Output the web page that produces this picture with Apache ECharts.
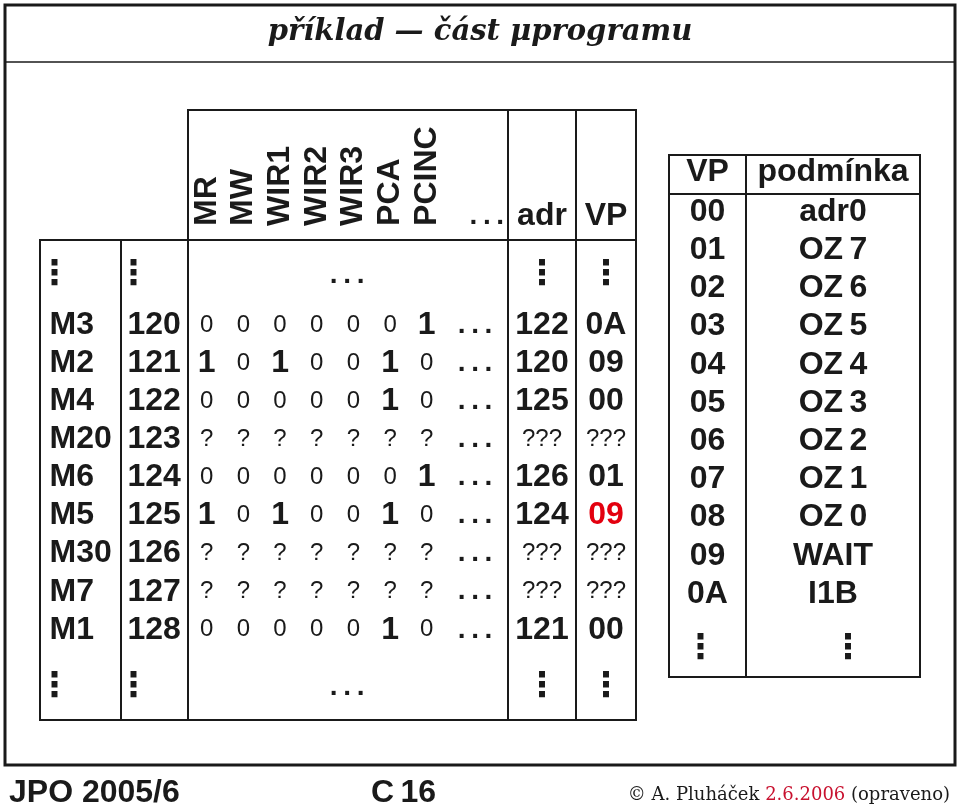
<!DOCTYPE html>
<html>
<head>
<meta charset="utf-8">
<title>příklad — část µprogramu</title>
<script src="https://cdn.jsdelivr.net/npm/echarts@6/dist/echarts.min.js"></script>
<style>
  html, body { margin: 0; background: #fff; }
  #chart { width: 960px; height: 810px; }
</style>
</head>
<body>
<div id="chart"></div>
<script>
// mikroinstrukce v pameti
const labels = ['M3', 'M2', 'M4', 'M20', 'M6', 'M5', 'M30', 'M7', 'M1'];
const addrs = ['120', '121', '122', '123', '124', '125', '126', '127', '128'];
const signals = ['MR', 'MW', 'WIR1', 'WIR2', 'WIR3', 'PCA', 'PCINC'];
const bits = ['0000001', '1010010', '0000010', '???????', '0000001',
              '1010010', '???????', '???????', '0000010'];
const nextAdr = ['122', '120', '125', '???', '126', '124', '???', '???', '121'];
const nextVP = ['0A', '09', '00', '???', '01', '09', '???', '???', '00'];
const changed = ['M5'];   // opravena polozka (cervene)

// tabulka podminek
const vpCodes = ['00', '01', '02', '03', '04', '05', '06', '07', '08', '09', '0A'];
const conditions = ['adr0', 'OZ\u20097', 'OZ\u20096', 'OZ\u20095', 'OZ\u20094', 'OZ\u20093',
                    'OZ\u20092', 'OZ\u20091', 'OZ\u20090', 'WAIT', 'I1B'];

const INK = '#1a1a1a';
const RED = '#e3000f';
const SANS = 'Liberation Sans';
const SERIF = 'DejaVu Serif';

// rozlozeni (px)
const LEFT = { row0: 325, step: 38.1, top: 110, head: 240, bottom: 720,
               cols: [40, 121, 188, 508, 576, 636] };
const RIGHT = { row0: 212, step: 38.2, top: 155, head: 194, bottom: 677,
                cols: [669, 746, 920] };
const BIT0 = 206.7, BITSTEP = 36.67;   // stred prvniho sloupce bitu
const DOTS_COL = 7.32, HEAD_DOTS_COL = 7.64, MID_COL = 3.83;
const HEAD_ROW = -2.6, HEAD_TXT_ROW = -2.86, GAP_TOP = -1.3, GAP_BOT = 9.5;
const R_HEAD_ROW = -1.05, R_GAP = 11.45;

let grids = [], xAxes = [], yAxes = [], series = [];

function addGrid(left, right, top, bottom, T, xAxis) {
    grids.push({ left: left, top: top, width: right - left, height: bottom - top,
                 show: true, borderColor: INK, borderWidth: 2, backgroundColor: 'transparent' });
    const i = grids.length - 1;
    xAxes.push(Object.assign({ gridIndex: i, show: false }, xAxis ||
        { type: 'category', data: ['c'], boundaryGap: true }));
    yAxes.push({ gridIndex: i, show: false, type: 'value', inverse: true,
                 min: (top - T.row0) / T.step, max: (bottom - T.row0) / T.step });
    return i;
}

const small = { fontFamily: SANS, fontSize: 24, fontWeight: 'normal', color: INK };

function textSeries(g, data, label) {
    series.push({
        type: 'scatter', xAxisIndex: g, yAxisIndex: g, symbolSize: 0, silent: true,
        itemStyle: { opacity: 1 },
        data: data,
        label: Object.assign({
            show: true, position: 'inside', opacity: 1,
            formatter: p => p.value[2] === '???' ? '{q|???}' : p.value[2],
            rich: { q: small },
            color: INK, fontFamily: SANS, fontSize: 32, fontWeight: 'bold'
        }, label)
    });
}

const vdots = { fontFamily: 'DejaVu Sans', fontSize: 34, fontWeight: 'bold' };
const hdots = '.\u2009.\u2009.';

// levá tabulka
const L = LEFT.cols;
const gName = addGrid(L[0], L[1], LEFT.head, LEFT.bottom, LEFT);
const gAddr = addGrid(L[1], L[2], LEFT.head, LEFT.bottom, LEFT);
const gBits = addGrid(L[2], L[3], LEFT.top, LEFT.bottom, LEFT,
    { type: 'value', min: (L[2] - BIT0) / BITSTEP, max: (L[3] - BIT0) / BITSTEP });
const gAdr = addGrid(L[3], L[4], LEFT.top, LEFT.bottom, LEFT);
const gVP = addGrid(L[4], L[5], LEFT.top, LEFT.bottom, LEFT);

textSeries(gName, labels.map((t, i) => [0, i, t]), { align: 'left', offset: [-31, 0] });
textSeries(gName, [[0, GAP_TOP, '⋮'], [0, GAP_BOT, '⋮']],
    Object.assign({ align: 'left', offset: [-43, 0] }, vdots));
textSeries(gAddr, addrs.map((t, i) => [0, i, t]), { align: 'left', offset: [-27, 0] });
textSeries(gAddr, [[0, GAP_TOP, '⋮'], [0, GAP_BOT, '⋮']],
    Object.assign({ align: 'left', offset: [-38, 0] }, vdots));

const bitData = [];
bits.forEach((row, r) => row.split('').forEach((b, c) => bitData.push([c, r, b])));
textSeries(gBits, bitData, {
    formatter: p => p.value[2] === '1' ? '{one|1}' : '{zero|' + p.value[2] + '}',
    rich: {
        one: { fontFamily: SANS, fontSize: 32, fontWeight: 'bold', color: INK },
        zero: small
    }
});
textSeries(gBits, labels.map((t, i) => [DOTS_COL, i, hdots]), { fontSize: 28 });
textSeries(gBits, [[MID_COL, GAP_TOP, hdots], [MID_COL, GAP_BOT, hdots], [HEAD_DOTS_COL, HEAD_ROW - 0.25, hdots]],
    { fontSize: 28 });
textSeries(gBits, signals.map((s, c) => [c, HEAD_ROW, s]),
    { rotate: 90, align: 'left', verticalAlign: 'middle', fontSize: 32 });

textSeries(gAdr, nextAdr.map((t, i) => [0, i, t]), {});
textSeries(gAdr, [[0, HEAD_TXT_ROW, 'adr']], {});
textSeries(gAdr, [[0, GAP_TOP, '⋮'], [0, GAP_BOT, '⋮']], vdots);

textSeries(gVP, nextVP.map((t, i) => [0, i, t]), {
    formatter: p => p.value[2] === '???' ? '{q|???}'
        : changed.includes(labels[p.dataIndex]) ? '{red|' + p.value[2] + '}' : p.value[2],
    rich: { q: small, red: { color: RED, fontFamily: SANS, fontSize: 32, fontWeight: 'bold' } }
});
textSeries(gVP, [[0, HEAD_TXT_ROW, 'VP']], {});
textSeries(gVP, [[0, GAP_TOP, '⋮'], [0, GAP_BOT, '⋮']], vdots);

// pravá tabulka
const R = RIGHT.cols;
const gCode = addGrid(R[0], R[1], RIGHT.top, RIGHT.bottom, RIGHT);
const gCond = addGrid(R[1], R[2], RIGHT.top, RIGHT.bottom, RIGHT);
textSeries(gCode, vpCodes.map((t, i) => [0, i, t]), {});
textSeries(gCode, [[0, R_HEAD_ROW, 'VP']], {});
textSeries(gCode, [[0, R_GAP, '⋮']], Object.assign({ offset: [-7, 0] }, vdots));
textSeries(gCond, conditions.map((t, i) => [0, i, t]), {});
textSeries(gCond, [[0, R_HEAD_ROW, 'podmínka']], {});
textSeries(gCond, [[0, R_GAP, '⋮']], Object.assign({ offset: [15, 0] }, vdots));

const chart = echarts.init(document.getElementById('chart'));
chart.setOption({
    animation: false,
    backgroundColor: '#fff',
    title: [
        { text: 'příklad — část μprogramu', left: 'center', top: 13,
          textStyle: { fontFamily: SERIF, fontStyle: 'italic', fontWeight: 'bold', fontSize: 29, color: INK } },
        { text: 'JPO 2005/6', left: 4, top: 772,
          textStyle: { fontFamily: SANS, fontWeight: 'bold', fontSize: 32, color: INK } },
        { text: 'C\u200916', left: 366, top: 772,
          textStyle: { fontFamily: SANS, fontWeight: 'bold', fontSize: 32, color: INK } },
        { text: '{a|© A. Pluháček }{r|2.6.2006}{a| (opraveno)}', right: 5, top: 781,
          textStyle: { fontWeight: 'normal', rich: {
              a: { fontFamily: SERIF, fontSize: 18, fontWeight: 'normal', color: INK },
              r: { fontFamily: SERIF, fontSize: 18, fontWeight: 'normal', color: '#c8102e' } } } }
    ],
    graphic: [
        { type: 'rect', shape: { x: 5, y: 5, width: 950, height: 760 },
          style: { fill: null, stroke: INK, lineWidth: 3 } },
        { type: 'line', shape: { x1: 5, y1: 62, x2: 955, y2: 62 },
          style: { stroke: INK, lineWidth: 1.5 } },
        { type: 'line', shape: { x1: L[2], y1: LEFT.head, x2: L[5], y2: LEFT.head },
          style: { stroke: INK, lineWidth: 2 } },
        { type: 'line', shape: { x1: R[0], y1: RIGHT.head, x2: R[2], y2: RIGHT.head },
          style: { stroke: INK, lineWidth: 2 } }
    ],
    grid: grids,
    xAxis: xAxes,
    yAxis: yAxes,
    series: series
});
</script>
</body>
</html>
